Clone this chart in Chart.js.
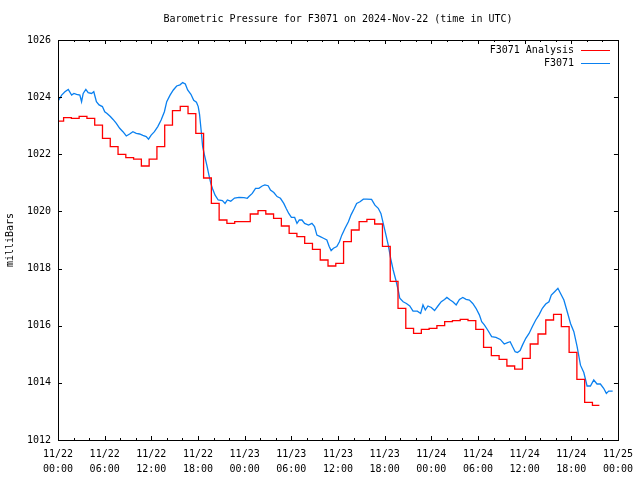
<!DOCTYPE html>
<html>
<head>
<meta charset="utf-8">
<title>Barometric Pressure F3071</title>
<script src="https://cdn.jsdelivr.net/npm/chart.js@4/dist/chart.umd.min.js"></script>
<style>
  html, body { margin: 0; padding: 0; background: #fff; }
  canvas { display: block; }
</style>
</head>
<body>
<canvas id="pressure-chart" width="640" height="480"></canvas>
<script>
// hours since 11/22 00:00 UTC
var tickDates = ['11/22', '11/22', '11/22', '11/22', '11/23', '11/23', '11/23', '11/23', '11/24', '11/24', '11/24', '11/24', '11/25'];
var tickTimes = ['00:00', '06:00', '12:00', '18:00', '00:00', '06:00', '12:00', '18:00', '00:00', '06:00', '12:00', '18:00', '00:00'];

var blueHours = [
    0.0, 0.47, 0.89, 1.32, 1.75, 2.05, 2.39, 2.81, 3.03, 3.24, 3.58, 3.88, 4.31, 4.60, 4.94, 5.28, 5.71, 6.01, 6.31, 6.73,
    7.08, 7.50, 7.93, 8.35, 8.78, 9.21, 9.63, 10.06, 10.49, 10.91, 11.34, 11.64, 11.98, 12.40, 12.83, 13.26, 13.68, 13.98, 14.41, 14.83,
    15.26, 15.69, 16.03, 16.37, 16.67, 17.09, 17.45, 17.80, 18.03, 18.20, 18.40, 18.60, 18.85, 19.15, 19.40, 19.65, 19.86, 20.20, 20.60, 21.14,
    21.48, 21.78, 22.21, 22.70, 23.27, 23.91, 24.34, 24.55, 24.98, 25.40, 25.83, 26.26, 26.60, 27.02, 27.32, 27.75, 28.17, 28.60, 29.03, 29.33,
    29.67, 30.01, 30.43, 30.73, 31.03, 31.37, 31.71, 32.22, 32.65, 32.99, 33.29, 33.72, 34.14, 34.57, 34.87, 35.12, 35.42, 35.85, 36.19, 36.49,
    36.91, 37.34, 37.68, 38.11, 38.40, 38.83, 39.26, 39.68, 40.32, 40.75, 41.18, 41.52, 41.82, 42.12, 42.46, 42.78, 43.10, 43.44, 43.74, 43.95,
    44.38, 44.80, 45.23, 45.65, 46.21, 46.63, 46.93, 47.23, 47.57, 48.00, 48.42, 48.85, 49.28, 49.70, 50.00, 50.43, 50.77, 51.20, 51.62, 52.05,
    52.47, 52.90, 53.33, 53.75, 54.18, 54.48, 54.82, 55.25, 55.76, 56.31, 56.87, 57.38, 57.80, 58.14, 58.44, 58.78, 59.08, 59.42, 59.72, 60.15,
    60.57, 61.00, 61.43, 61.85, 62.28, 62.71, 63.13, 63.43, 63.86, 64.28, 64.62, 65.05, 65.48, 65.90, 66.33, 66.75, 67.18, 67.61, 68.03, 68.46,
    68.89, 69.31, 69.74, 70.16, 70.51, 70.81, 71.32
];
var bluePressure = [
    1023.86, 1024.07, 1024.19, 1024.27, 1024.07, 1024.13, 1024.10, 1024.07, 1023.84, 1024.13, 1024.27, 1024.16, 1024.13, 1024.19, 1023.84, 1023.73, 1023.67, 1023.49, 1023.43, 1023.32,
    1023.22, 1023.08, 1022.91, 1022.79, 1022.64, 1022.71, 1022.79, 1022.73, 1022.71, 1022.66, 1022.62, 1022.53, 1022.67, 1022.79, 1022.97, 1023.20, 1023.49, 1023.84, 1024.07, 1024.25,
    1024.39, 1024.43, 1024.51, 1024.46, 1024.25, 1024.10, 1023.89, 1023.82, 1023.67, 1023.40, 1022.85, 1022.27, 1021.95, 1021.60, 1021.28, 1020.98, 1020.80, 1020.57, 1020.40, 1020.38,
    1020.28, 1020.40, 1020.36, 1020.47, 1020.49, 1020.48, 1020.46, 1020.52, 1020.63, 1020.81, 1020.81, 1020.89, 1020.93, 1020.90, 1020.75, 1020.66, 1020.52, 1020.46, 1020.28, 1020.11,
    1019.93, 1019.79, 1019.79, 1019.58, 1019.70, 1019.70, 1019.58, 1019.52, 1019.58, 1019.47, 1019.17, 1019.12, 1019.06, 1019.00, 1018.77, 1018.63, 1018.71, 1018.77, 1018.94, 1019.17,
    1019.41, 1019.64, 1019.88, 1020.11, 1020.28, 1020.34, 1020.43, 1020.43, 1020.42, 1020.22, 1020.11, 1019.93, 1019.58, 1019.23, 1018.83, 1018.35, 1017.95, 1017.60, 1017.25, 1016.96,
    1016.84, 1016.78, 1016.69, 1016.51, 1016.51, 1016.43, 1016.73, 1016.55, 1016.69, 1016.64, 1016.53, 1016.69, 1016.84, 1016.92, 1016.99, 1016.90, 1016.84, 1016.73, 1016.92, 1016.99,
    1016.92, 1016.90, 1016.78, 1016.61, 1016.38, 1016.14, 1016.03, 1015.85, 1015.62, 1015.59, 1015.52, 1015.36, 1015.41, 1015.44, 1015.27, 1015.09, 1015.06, 1015.13, 1015.32, 1015.56,
    1015.73, 1015.97, 1016.20, 1016.38, 1016.61, 1016.76, 1016.84, 1017.07, 1017.19, 1017.31, 1017.13, 1016.90, 1016.49, 1016.08, 1015.79, 1015.27, 1014.62, 1014.36, 1013.89, 1013.89,
    1014.10, 1013.96, 1013.96, 1013.81, 1013.63, 1013.71, 1013.71
];

// analysis: each value holds from its hour until the next one
var redHours = [
    0, 0.72, 1.72, 2.72, 3.72, 4.72, 5.72, 6.72, 7.72, 8.72, 9.72, 10.72, 11.72, 12.72, 13.72, 14.72, 15.72, 16.72, 17.72, 18.72,
    19.72, 20.72, 21.72, 22.72, 23.72, 24.72, 25.72, 26.72, 27.72, 28.72, 29.72, 30.72, 31.72, 32.72, 33.72, 34.72, 35.72, 36.72, 37.72, 38.72,
    39.72, 40.72, 41.72, 42.72, 43.72, 44.72, 45.72, 46.72, 47.72, 48.72, 49.72, 50.72, 51.72, 52.72, 53.72, 54.72, 55.72, 56.72, 57.72, 58.72,
    59.72, 60.72, 61.72, 62.72, 63.72, 64.72, 65.72, 66.72, 67.72, 68.72, 69.61
];
var redPressure = [
    1023.16, 1023.28, 1023.26, 1023.33, 1023.26, 1023.02, 1022.56, 1022.27, 1022.00, 1021.88, 1021.83, 1021.59, 1021.83, 1022.27, 1023.02, 1023.53, 1023.68, 1023.42, 1022.73, 1021.17,
    1020.28, 1019.70, 1019.58, 1019.64, 1019.64, 1019.91, 1020.03, 1019.91, 1019.76, 1019.49, 1019.23, 1019.12, 1018.88, 1018.67, 1018.30, 1018.09, 1018.18, 1018.94, 1019.35, 1019.64,
    1019.72, 1019.56, 1018.78, 1017.55, 1016.61, 1015.91, 1015.73, 1015.87, 1015.91, 1016.00, 1016.14, 1016.18, 1016.22, 1016.18, 1015.87, 1015.24, 1014.95, 1014.82, 1014.59, 1014.48,
    1014.86, 1015.36, 1015.71, 1016.20, 1016.40, 1015.97, 1015.07, 1014.12, 1013.32, 1013.21, 1013.21
];

var FONT = '10px "DejaVu Sans Mono", "Liberation Mono", monospace';
var TITLE = 'Barometric Pressure for F3071 on 2024-Nov-22 (time in UTC)';

function toPoints(xs, ys) {
    var pts = [];
    for (let i = 0; i < xs.length; i++) pts.push({ x: xs[i], y: ys[i] });
    return pts;
}

// frame, inward ticks, title and legend in gnuplot style
var gnuFrame = {
    id: 'gnuFrame',
    afterDraw(chart) {
        const ctx = chart.ctx;
        const a = chart.chartArea;
        const xs = chart.scales.x;
        const ys = chart.scales.y;
        ctx.save();
        ctx.strokeStyle = '#000';
        ctx.lineWidth = 1;
        ctx.beginPath();
        for (let h = 0; h <= 72; h += 2) {
            const px = Math.round(xs.getPixelForValue(h)) + 0.5;
            const len = h % 6 === 0 ? 4 : 2;
            ctx.moveTo(px, a.bottom); ctx.lineTo(px, a.bottom - len);
            ctx.moveTo(px, a.top); ctx.lineTo(px, a.top + len);
        }
        ys.ticks.forEach(function (t) {
            const py = Math.round(ys.getPixelForValue(t.value)) + 0.5;
            ctx.moveTo(a.left, py); ctx.lineTo(a.left + 4, py);
            ctx.moveTo(a.right, py); ctx.lineTo(a.right - 4, py);
        });
        ctx.stroke();
        ctx.strokeRect(Math.round(a.left) + 0.5, Math.round(a.top) + 0.5, Math.round(a.width), Math.round(a.height));

        ctx.fillStyle = '#000';
        ctx.font = FONT;
        ctx.textBaseline = 'middle';
        ctx.textAlign = 'center';
        ctx.fillText(TITLE, (a.left + a.right) / 2, 19);

        ctx.textAlign = 'right';
        chart.data.datasets.forEach(function (ds, i) {
            const ly = 50 + i * 13;
            ctx.fillStyle = '#000';
            ctx.fillText(ds.label, 574, ly);
            ctx.strokeStyle = ds.borderColor;
            ctx.beginPath();
            ctx.moveTo(581, ly + 0.5);
            ctx.lineTo(610, ly + 0.5);
            ctx.stroke();
        });
        ctx.restore();
    }
};

Chart.defaults.font.family = '"DejaVu Sans Mono", "Liberation Mono", monospace';
Chart.defaults.font.size = 10;
Chart.defaults.color = '#000';

new Chart(document.getElementById('pressure-chart'), {
    type: 'line',
    data: {
        datasets: [{
            label: 'F3071 Analysis',
            data: toPoints(redHours, redPressure),
            borderColor: '#ff0000',
            borderWidth: 1.3,
            pointRadius: 0,
            stepped: true,
            fill: false
        }, {
            label: 'F3071',
            data: toPoints(blueHours, bluePressure),
            borderColor: '#0a80f0',
            borderWidth: 1.3,
            pointRadius: 0,
            tension: 0,
            fill: false
        }]
    },
    options: {
        responsive: false,
        animation: false,
        devicePixelRatio: 1,
        layout: { padding: { top: 40, right: 19, left: 0, bottom: 0 } },
        scales: {
            x: {
                type: 'linear',
                min: 0,
                max: 72,
                afterFit: function (s) { s.height = 40; },
                grid: { display: false, drawTicks: false },
                border: { display: false },
                ticks: {
                    stepSize: 6,
                    maxRotation: 0,
                    autoSkip: false,
                    padding: 7,
                    font: { lineHeight: 1.5 },
                    callback: function (v) {
                        var i = Math.round(v / 6);
                        return [tickDates[i], tickTimes[i]];
                    }
                }
            },
            y: {
                min: 1012,
                max: 1026,
                afterFit: function (s) { s.width = 58; },
                grid: { display: false, drawTicks: false },
                border: { display: false },
                ticks: {
                    stepSize: 2,
                    padding: 7,
                    callback: function (v) { return String(v); }
                },
                title: { display: true, text: 'milliBars', padding: { top: 4, bottom: 0 } }
            }
        },
        plugins: {
            legend: { display: false },
            tooltip: { enabled: false }
        }
    },
    plugins: [gnuFrame]
});
</script>
</body>
</html>
